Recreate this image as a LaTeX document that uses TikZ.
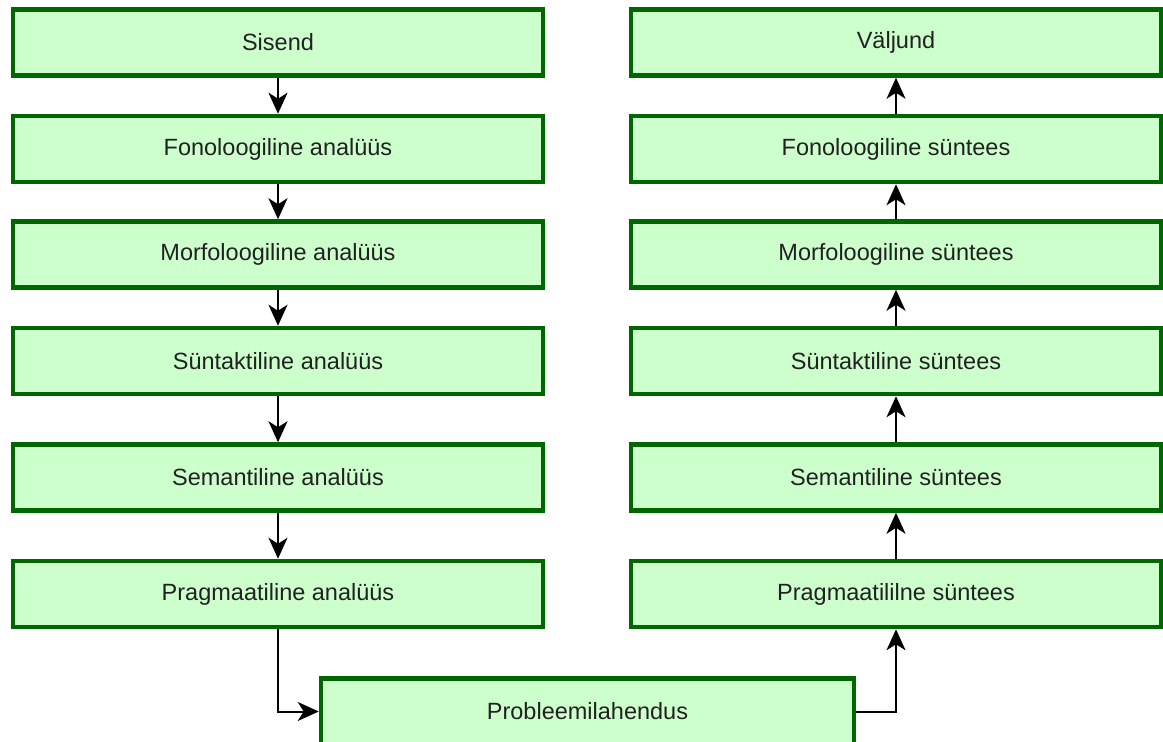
\documentclass[tikz,border=0pt]{standalone}
\usepackage{fontspec}
\setmainfont{Liberation Sans}
\usetikzlibrary{arrows.meta}
\definecolor{mygreen}{rgb}{0.8,1.0,0.8}
\definecolor{mydarkgreen}{rgb}{0.0,0.4,0.0}
\definecolor{mytext}{gray}{0.13}

\begin{document}
\begin{tikzpicture}[x=1pt, y=-1pt,
    box/.style={draw=mydarkgreen, fill=mygreen, line width=4.5pt, minimum width=530pt, minimum height=66pt, inner sep=0pt, text=mytext, font=\fontsize{23.5}{27}\selectfont},
    arrow/.style={line width=2pt, black, -{Stealth[length=21pt, width=19pt, inset=6pt]}}]
    \useasboundingbox (0,0) rectangle (1163,742);
    \node[box] (sisend) at (278,42.5) {Sisend};
    \node[box] (fonana) at (278,149) {Fonoloogiline analüüs};
    \node[box] (morana) at (278,254.5) {Morfoloogiline analüüs};
    \node[box] (syntana) at (278,361) {Süntaktiline analüüs};
    \node[box] (semana) at (278,477.5) {Semantiline analüüs};
    \node[box] (pragana) at (278,594) {Pragmaatiline analüüs};
    \node[box] (valjund) at (896,42.5) {Väljund};
    \node[box] (fonsyn) at (896,149) {Fonoloogiline süntees};
    \node[box] (morsyn) at (896,254.5) {Morfoloogiline süntees};
    \node[box] (syntsyn) at (896,361) {Süntaktiline süntees};
    \node[box] (semsyn) at (896,477.5) {Semantiline süntees};
    \node[box] (pragsyn) at (896,594) {Pragmaatililne süntees};
    \node[box, minimum width=533pt] (probl) at (587.5,711.5) {Probleemilahendus};
    \draw[arrow] (sisend) -- (fonana);
    \draw[arrow] (fonana) -- (morana);
    \draw[arrow] (morana) -- (syntana);
    \draw[arrow] (syntana) -- (semana);
    \draw[arrow] (semana) -- (pragana);
    \draw[arrow] (pragana.south) |- (probl.west);
    \draw[arrow] (probl.east) -| (pragsyn.south);
    \draw[arrow] (pragsyn) -- (semsyn);
    \draw[arrow] (semsyn) -- (syntsyn);
    \draw[arrow] (syntsyn) -- (morsyn);
    \draw[arrow] (morsyn) -- (fonsyn);
    \draw[arrow] (fonsyn) -- (valjund);
\end{tikzpicture}
\end{document}
